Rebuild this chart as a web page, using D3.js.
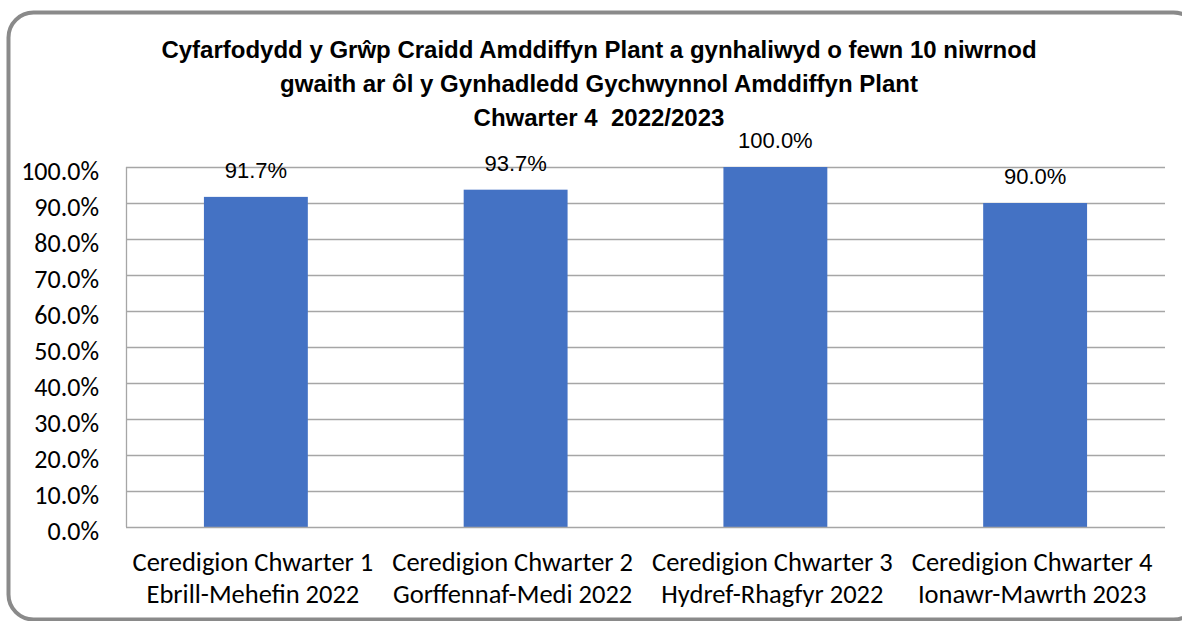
<!DOCTYPE html>
<html>
<head>
<meta charset="utf-8">
<script src="https://cdn.jsdelivr.net/npm/d3@7"></script>
<style>
  html, body { margin: 0; padding: 0; background: #fff; }
  svg { display: block; }
</style>
</head>
<body>
<svg id="chart" width="1182" height="621"></svg>
<script>
// data
var titleLines = ["Cyfarfodydd y Grŵp Craidd Amddiffyn Plant a gynhaliwyd o fewn 10 niwrnod",
                  "gwaith ar ôl y Gynhadledd Gychwynnol Amddiffyn Plant",
                  "Chwarter 4  2022/2023"];
var categories = [["Ceredigion Chwarter 1", "Ebrill-Mehefin 2022"],
                  ["Ceredigion Chwarter 2", "Gorffennaf-Medi 2022"],
                  ["Ceredigion Chwarter 3", "Hydref-Rhagfyr 2022"],
                  ["Ceredigion Chwarter 4", "Ionawr-Mawrth 2023"]];
var values = [91.7, 93.7, 100.0, 90.0];
var yTicks = [0, 10, 20, 30, 40, 50, 60, 70, 80, 90, 100];

var svg = d3.select("#chart");
var plot = {left: 126, right: 1165, top: 167, bottom: 527};
var catFont = "Carlito, Lato, 'Noto Sans', sans-serif";

// outer frame (runs off the right edge like the original)
svg.append("rect")
  .attr("x", 8.5).attr("y", 12.5)
  .attr("width", 1190).attr("height", 607)
  .attr("rx", 25).attr("ry", 25)
  .style("fill", "#fff")
  .style("stroke", "#8a8a8a")
  .style("stroke-width", 4);

// title
svg.append("text")
  .attr("x", 599).attr("y", 58)
  .attr("text-anchor", "middle")
  .style("font-family", "'Liberation Sans', Arial, sans-serif")
  .style("font-weight", "bold")
  .style("font-size", "24px")
  .style("white-space", "pre")
  .style("fill", "#000")
  .selectAll("tspan").data(titleLines).enter().append("tspan")
  .attr("x", 599)
  .attr("dy", function(d, i){ return i == 0 ? 0 : 34; })
  .text(function(d){ return d; });

var x = d3.scaleBand()
  .domain(d3.range(categories.length))
  .range([plot.left, plot.right])
  .paddingInner(0.6).paddingOuter(0.3);

var y = d3.scaleLinear().domain([0, 100]).range([plot.bottom, plot.top]);

// gridlines
svg.append("g")
  .selectAll("line").data(yTicks.filter(function(t){ return t > 0; })).enter().append("line")
  .attr("x1", plot.left).attr("x2", plot.right)
  .attr("y1", function(d){ return Math.round(y(d)) + 0.5; })
  .attr("y2", function(d){ return Math.round(y(d)) + 0.5; })
  .style("stroke", "#a6a6a6").style("stroke-width", 1.3);

// left line
svg.append("line")
  .attr("x1", plot.left + 0.5).attr("x2", plot.left + 0.5)
  .attr("y1", plot.top).attr("y2", plot.bottom)
  .style("stroke", "#a6a6a6").style("stroke-width", 1.3);

// bars
svg.append("g")
  .selectAll("rect").data(values).enter().append("rect")
  .attr("x", function(d, i){ return x(i); })
  .attr("y", function(d){ return y(d); })
  .attr("width", x.bandwidth())
  .attr("height", function(d){ return y(0) - y(d); })
  .style("fill", "#4472c4");

// bottom axis line
svg.append("line")
  .attr("x1", plot.left).attr("x2", plot.right)
  .attr("y1", plot.bottom + 0.5).attr("y2", plot.bottom + 0.5)
  .style("stroke", "#a6a6a6").style("stroke-width", 1.3);

// y axis labels
var yAxis = d3.axisLeft(y).tickValues(yTicks).tickSize(0).tickPadding(27)
  .tickFormat(function(d){ return d.toFixed(1) + "%"; });
var gy = svg.append("g").attr("transform", "translate(" + plot.left + ",4)").call(yAxis);
gy.select(".domain").remove();
gy.selectAll("text")
  .style("font-family", catFont)
  .style("font-size", "26px")
  .style("fill", "#000");

// data labels
svg.append("g")
  .selectAll("text").data(values).enter().append("text")
  .attr("x", function(d, i){ return x(i) + x.bandwidth() / 2; })
  .attr("y", function(d){ return y(d) - 19; })
  .attr("text-anchor", "middle")
  .style("font-family", "'Liberation Sans', Arial, sans-serif")
  .style("font-size", "22px")
  .style("fill", "#000")
  .text(function(d){ return d.toFixed(1) + "%"; });

// category labels
var cat = svg.append("g")
  .selectAll("text").data(categories).enter().append("text")
  .attr("text-anchor", "middle")
  .style("font-family", catFont)
  .style("font-size", "26.5px")
  .style("fill", "#000");
cat.selectAll("tspan").data(function(d){ return d; }).enter().append("tspan")
  .attr("x", function(d, j, nodes){
    var i = categories.indexOf(d3.select(nodes[j].parentNode).datum());
    return x(i) + x.bandwidth() / 2 - 3;
  })
  .attr("y", function(d, j){ return j == 0 ? 571 : 603; })
  .text(function(d){ return d; });
</script>
</body>
</html>
